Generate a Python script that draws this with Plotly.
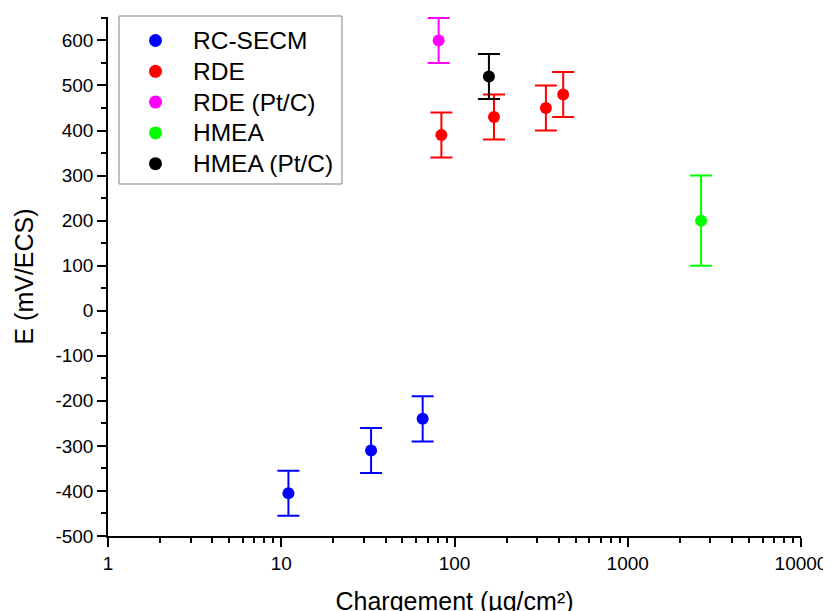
import plotly.graph_objects as go

# Data
series_names = ["RC-SECM", "RDE", "RDE (Pt/C)", "HMEA", "HMEA (Pt/C)"]
series_colors = ["#0000ff", "#ff0000", "#ff00ff", "#00ff00", "#000000"]

rc_secm_x = [11, 33, 65.5]
rc_secm_y = [-405, -310, -240]
rc_secm_err = [50, 50, 50]

rde_x = [84, 169, 337, 424]
rde_y = [390, 430, 450, 480]
rde_err = [50, 50, 50, 50]

rde_ptc_x = [81]
rde_ptc_y = [600]
rde_ptc_err = [50]

hmea_x = [2650]
hmea_y = [200]
hmea_err = [100]

hmea_ptc_x = [158]
hmea_ptc_y = [520]
hmea_ptc_err = [50]

x_tickvals = [1, 10, 100, 1000, 10000]
x_ticktext = ["1", "10", "100", "1000", "10000"]
y_tickvals = [-500, -400, -300, -200, -100, 0, 100, 200, 300, 400, 500, 600]
y_ticktext = ["-500", "-400", "-300", "-200", "-100", "0", "100", "200", "300", "400", "500", "600"]

all_x = [rc_secm_x, rde_x, rde_ptc_x, hmea_x, hmea_ptc_x]
all_y = [rc_secm_y, rde_y, rde_ptc_y, hmea_y, hmea_ptc_y]
all_e = [rc_secm_err, rde_err, rde_ptc_err, hmea_err, hmea_ptc_err]

FONT = "Arial, Liberation Sans, sans-serif"

W, H = 831, 611
ML, MR, MT, MB = 100, 38, 9, 83  # page body adds an 8px offset
PW = W - ML - MR
PH = H - MT - MB


def px(fx):
    return (fx - ML) / PW


def py(fy):
    return 1 - (fy - MT) / PH


fig = go.Figure()
for name, col, xs, ys, es in zip(series_names, series_colors, all_x, all_y, all_e):
    fig.add_trace(go.Scatter(
        x=xs, y=ys, mode="markers", name=name, showlegend=False,
        marker=dict(color=col, size=12),
        error_y=dict(type="data", array=es, visible=True, color=col, thickness=2, width=11),
    ))

# Legend box (drawn by hand for exact spacing)
shapes = [dict(type="rect", xref="paper", yref="paper",
               x0=px(111), x1=px(334), y0=py(176), y1=py(8),
               line=dict(color="#808080", width=1), fillcolor="white", layer="above")]
annotations = []
row0, gap = 32.5, 30.8
for i, (name, col) in enumerate(zip(series_names, series_colors)):
    fy = row0 + i * gap
    shapes.append(dict(type="circle", xref="paper", yref="paper",
                       xsizemode="pixel", ysizemode="pixel",
                       xanchor=px(147.5), yanchor=py(fy),
                       x0=-6.5, x1=6.5, y0=-6.5, y1=6.5,
                       line=dict(width=0), fillcolor=col, layer="above"))
    annotations.append(dict(xref="paper", yref="paper", x=px(182.5), y=py(fy),
                            xanchor="left", yanchor="middle", showarrow=False,
                            text=name, font=dict(size=24.5, family=FONT, color="#000000")))

fig.update_layout(
    width=W, height=H,
    margin=dict(l=ML, r=MR, t=MT, b=MB),
    plot_bgcolor="white", paper_bgcolor="white",
    font=dict(family=FONT, color="#000000"),
    showlegend=False,
    shapes=shapes,
    annotations=annotations,
    xaxis=dict(
        type="log", range=[0, 4], automargin=False,
        tickvals=x_tickvals, ticktext=x_ticktext,
        ticks="outside", ticklen=9, tickwidth=1.5, tickcolor="black",
        showline=True, linecolor="black", linewidth=1.5,
        showgrid=False, zeroline=False,
        tickfont=dict(size=19, family=FONT),
        minor=dict(ticks="outside", ticklen=5, tickwidth=1.5, tickcolor="black", dtick="D1", showgrid=False),
        title=dict(text="Chargement (µg/cm²)", font=dict(size=25, family=FONT), standoff=20),
    ),
    yaxis=dict(
        range=[-500, 652], automargin=False,
        tickvals=y_tickvals, ticktext=y_ticktext,
        ticks="outside", ticklen=9, tickwidth=1.5, tickcolor="black",
        showline=True, linecolor="black", linewidth=1.5,
        showgrid=False, zeroline=False,
        tickfont=dict(size=19, family=FONT),
        minor=dict(ticks="outside", ticklen=5, tickwidth=1.5, tickcolor="black", dtick=50, showgrid=False),
        title=dict(text="E (mV/ECS)", font=dict(size=25, family=FONT), standoff=15),
    ),
)

fig.write_html("out.html")
